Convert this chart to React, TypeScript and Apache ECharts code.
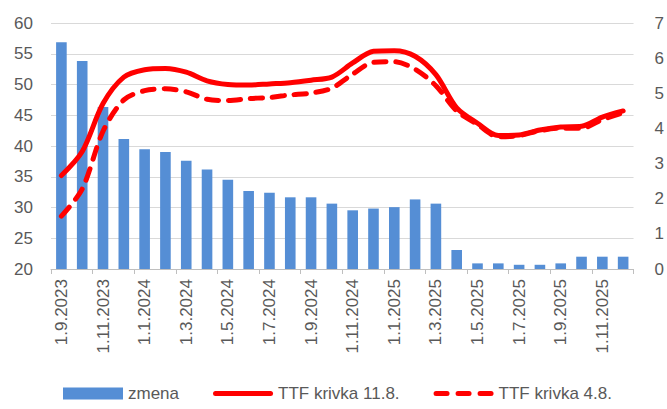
import React, { useEffect, useRef } from "react";
import * as echarts from "echarts";

const categories = [
  "1.9.2023", "1.10.2023", "1.11.2023", "1.12.2023",
  "1.1.2024", "1.2.2024", "1.3.2024", "1.4.2024", "1.5.2024", "1.6.2024",
  "1.7.2024", "1.8.2024", "1.9.2024", "1.10.2024", "1.11.2024", "1.12.2024",
  "1.1.2025", "1.2.2025", "1.3.2025", "1.4.2025", "1.5.2025", "1.6.2025",
  "1.7.2025", "1.8.2025", "1.9.2025", "1.10.2025", "1.11.2025", "1.12.2025",
];

const zmena = [
  6.45, 5.92, 4.61, 3.7, 3.41, 3.33, 3.08, 2.83, 2.54, 2.22, 2.17, 2.04, 2.04, 1.86,
  1.67, 1.72, 1.76, 1.98, 1.86, 0.54, 0.16, 0.16, 0.12, 0.12, 0.16, 0.35, 0.35, 0.35,
];

const ttf118 = [
  35.2, 39.1, 46.9, 51.2, 52.4, 52.6, 52.0, 50.6, 50.0, 49.9, 50.1, 50.3, 50.7, 51.2,
  53.5, 55.4, 55.5, 54.6, 51.6, 46.2, 43.7, 41.7, 41.8, 42.6, 43.1, 43.2, 44.7, 45.7,
];

const ttf48 = [
  28.6, 33.0, 42.4, 47.5, 49.0, 49.3, 48.8, 47.6, 47.4, 47.7, 47.9, 48.3, 48.6, 49.4,
  51.7, 53.6, 53.7, 52.5, 49.8, 45.7, 43.5, 41.5, 41.7, 42.5, 42.9, 42.9, 44.3, 45.4,
];

const leftTicks = { min: 20, max: 60, interval: 5 };
const rightTicks = { min: 0, max: 7, interval: 1 };

const FONT = "Liberation Sans";
const GRAY = "#595959";

const solidIcon = "path://M2.5,0 h55 a2.5,2.5 0 0 1 0,5 h-55 a2.5,2.5 0 0 1 0,-5 Z";
const dashedIcon =
  "path://M2.5,0 h11 a2.5,2.5 0 0 1 0,5 h-11 a2.5,2.5 0 0 1 0,-5 Z " +
  "M24.5,0 h11 a2.5,2.5 0 0 1 0,5 h-11 a2.5,2.5 0 0 1 0,-5 Z " +
  "M46.5,0 h11 a2.5,2.5 0 0 1 0,5 h-11 a2.5,2.5 0 0 1 0,-5 Z";

export default function App() {
  const ref = useRef<HTMLDivElement>(null);
  useEffect(() => {
    if (!ref.current) return;
    const chart = echarts.init(ref.current, undefined, { renderer: "svg" });
    chart.setOption({
      animation: false,
      textStyle: { fontFamily: FONT },
      grid: { left: 51, right: 31, top: 23, bottom: 140, containLabel: false },
      legend: {
        bottom: 2,
        left: 58,
        itemWidth: 60,
        itemHeight: 12,
        itemGap: 34,
        textStyle: { fontSize: 17, color: GRAY, fontFamily: FONT },
        data: [
          { name: "zmena", icon: "rect" },
          { name: "TTF krivka 11.8.", icon: solidIcon, itemStyle: { color: "#FF0000" } },
          { name: "TTF krivka 4.8.", icon: dashedIcon, itemStyle: { color: "#FF0000" } },
        ],
      },
      xAxis: {
        type: "category",
        data: categories,
        boundaryGap: true,
        axisLine: { show: true, lineStyle: { color: "#bfbfbf", width: 1 } },
        axisTick: { show: true, interval: 1, length: 5, lineStyle: { color: "#bfbfbf" } },
        axisLabel: {
          interval: 1,
          rotate: 90,
          fontSize: 17,
          color: GRAY,
          margin: 10,
          fontFamily: FONT,
        },
      },
      yAxis: [
        {
          type: "value",
          ...leftTicks,
          axisLine: { show: false },
          axisTick: { show: false },
          splitLine: { lineStyle: { color: "#d9d9d9", width: 1 } },
          axisLabel: { fontSize: 17, color: GRAY, margin: 18, fontFamily: FONT },
        },
        {
          type: "value",
          ...rightTicks,
          position: "right",
          axisLine: { show: false },
          axisTick: { show: false },
          splitLine: { show: false },
          axisLabel: { fontSize: 17, color: GRAY, margin: 21, fontFamily: FONT },
        },
      ],
      series: [
        {
          name: "zmena",
          type: "bar",
          yAxisIndex: 1,
          data: zmena,
          barWidth: "51%",
          itemStyle: { color: "#558ED5" },
        },
        {
          name: "TTF krivka 11.8.",
          type: "line",
          yAxisIndex: 0,
          data: ttf118,
          smooth: 0.3,
          symbol: "none",
          lineStyle: { color: "#FF0000", width: 5, cap: "round", join: "round" },
          itemStyle: { color: "#FF0000" },
        },
        {
          name: "TTF krivka 4.8.",
          type: "line",
          yAxisIndex: 0,
          data: ttf48,
          smooth: 0.3,
          symbol: "none",
          lineStyle: { color: "#FF0000", width: 5, type: [12, 10], cap: "round", join: "round" },
          itemStyle: { color: "#FF0000" },
        },
      ],
    });
    return () => chart.dispose();
  }, []);
  return <div ref={ref} style={{ width: 667, height: 409, position: "absolute", left: 0, top: 0 }} />;
}
